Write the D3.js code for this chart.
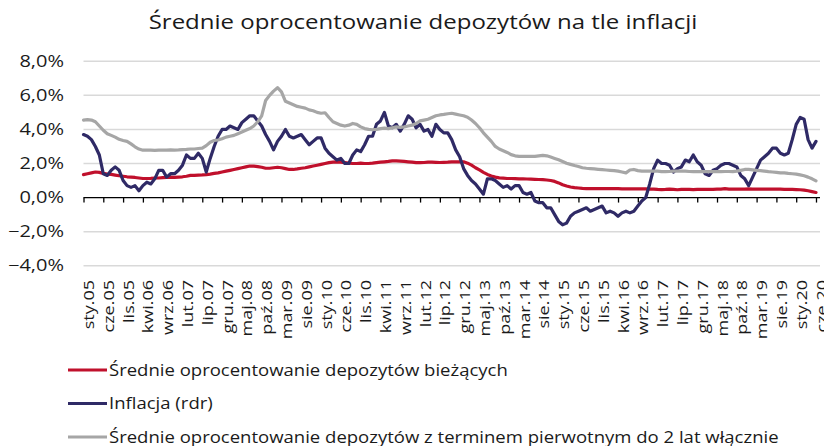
<!DOCTYPE html>
<html>
<head>
<meta charset="utf-8">
<script src="https://cdn.jsdelivr.net/npm/d3@7"></script>
<style>
  body { margin: 0; background: #fff; }
  text { font-family: "Open Sans", sans-serif; fill: #1a1a1a; }
</style>
</head>
<body>
<script>
// monthly data sty.05 - cze.20
var tickLabels = ["sty.05","cze.05","lis.05","kwi.06","wrz.06","lut.07","lip.07","gru.07","maj.08","paź.08",
  "mar.09","sie.09","sty.10","cze.10","lis.10","kwi.11","wrz.11","lut.12","lip.12","gru.12",
  "maj.13","paź.13","mar.14","sie.14","sty.15","cze.15","lis.15","kwi.16","wrz.16","lut.17",
  "lip.17","gru.17","maj.18","paź.18","mar.19","sie.19","sty.20","cze.20"];

var yTicks = [-4, -2, 0, 2, 4, 6, 8];

var biezace = [
  1.35,1.40,1.45,1.50,1.48,1.42,1.38,1.36,1.32,1.28,1.25,1.22,
  1.20,1.18,1.15,1.12,1.12,1.13,1.15,1.15,1.17,1.18,1.20,1.18,
  1.20,1.22,1.25,1.30,1.30,1.32,1.33,1.35,1.38,1.42,1.45,1.50,
  1.55,1.60,1.65,1.70,1.75,1.80,1.85,1.85,1.82,1.78,1.72,1.72,
  1.75,1.78,1.75,1.70,1.65,1.65,1.68,1.72,1.75,1.80,1.85,1.90,
  1.95,2.00,2.05,2.08,2.10,2.08,2.05,2.02,2.00,2.00,2.02,2.00,
  2.00,2.02,2.05,2.08,2.10,2.12,2.15,2.15,2.14,2.12,2.10,2.08,
  2.05,2.05,2.06,2.08,2.08,2.07,2.06,2.07,2.08,2.10,2.10,2.10,
  2.10,2.02,1.90,1.75,1.62,1.48,1.36,1.27,1.20,1.16,1.14,1.12,
  1.12,1.11,1.10,1.10,1.09,1.08,1.07,1.06,1.05,1.03,1.00,0.95,
  0.86,0.75,0.68,0.62,0.58,0.56,0.54,0.53,0.52,0.52,0.52,0.52,
  0.52,0.52,0.52,0.52,0.51,0.51,0.51,0.51,0.51,0.51,0.51,0.50,
  0.50,0.48,0.47,0.48,0.50,0.48,0.46,0.48,0.48,0.48,0.47,0.48,
  0.48,0.48,0.48,0.48,0.49,0.50,0.52,0.50,0.49,0.49,0.50,0.50,
  0.51,0.50,0.50,0.49,0.49,0.49,0.49,0.49,0.49,0.48,0.48,0.48,
  0.47,0.46,0.44,0.40,0.35,0.30
];

var inflacja = [
  3.7,3.6,3.4,3.0,2.5,1.4,1.3,1.6,1.8,1.6,1.0,0.7,
  0.6,0.7,0.4,0.7,0.9,0.8,1.1,1.6,1.6,1.2,1.4,1.4,
  1.6,1.9,2.5,2.3,2.3,2.6,2.3,1.5,2.3,3.0,3.6,4.0,
  4.0,4.2,4.1,4.0,4.4,4.6,4.8,4.8,4.5,4.2,3.7,3.3,
  2.8,3.3,3.6,4.0,3.6,3.5,3.6,3.7,3.4,3.1,3.3,3.5,
  3.5,2.9,2.6,2.4,2.2,2.3,2.0,2.0,2.5,2.8,2.7,3.1,
  3.6,3.6,4.3,4.5,5.0,4.2,4.1,4.3,3.9,4.3,4.8,4.6,
  4.1,4.3,3.9,4.0,3.6,4.3,4.0,3.8,3.8,3.4,2.8,2.4,
  1.7,1.3,1.0,0.8,0.5,0.2,1.1,1.1,1.0,0.8,0.6,0.7,
  0.5,0.7,0.7,0.3,0.2,0.3,-0.2,-0.3,-0.3,-0.6,-0.6,-1.0,
  -1.4,-1.6,-1.5,-1.1,-0.9,-0.8,-0.7,-0.6,-0.8,-0.7,-0.6,-0.5,
  -0.9,-0.8,-0.9,-1.1,-0.9,-0.8,-0.9,-0.8,-0.5,-0.2,0.0,0.8,
  1.7,2.2,2.0,2.0,1.9,1.5,1.7,1.8,2.2,2.1,2.5,2.1,
  1.9,1.4,1.3,1.6,1.7,1.9,2.0,2.0,1.9,1.8,1.3,1.1,
  0.7,1.2,1.7,2.2,2.4,2.6,2.9,2.9,2.6,2.5,2.6,3.4,
  4.3,4.7,4.6,3.4,2.9,3.3
];

var terminowe = [
  4.55,4.58,4.55,4.45,4.20,3.95,3.75,3.65,3.55,3.42,3.35,3.30,
  3.15,2.98,2.85,2.78,2.78,2.78,2.77,2.78,2.78,2.78,2.80,2.79,
  2.80,2.82,2.83,2.85,2.85,2.88,2.90,3.05,3.25,3.35,3.38,3.45,
  3.55,3.60,3.65,3.75,3.85,3.95,4.05,4.20,4.45,4.80,5.70,6.00,
  6.25,6.45,6.20,5.65,5.55,5.45,5.35,5.30,5.25,5.15,5.10,5.00,
  4.95,4.98,4.70,4.45,4.35,4.25,4.20,4.25,4.35,4.30,4.15,4.05,
  4.00,3.98,4.00,4.05,4.08,4.05,4.10,4.15,4.12,4.15,4.20,4.25,
  4.35,4.50,4.55,4.60,4.70,4.80,4.85,4.88,4.92,4.95,4.90,4.85,
  4.80,4.72,4.55,4.35,4.10,3.80,3.55,3.30,3.00,2.85,2.75,2.65,
  2.52,2.45,2.42,2.42,2.42,2.42,2.42,2.45,2.48,2.45,2.38,2.30,
  2.22,2.12,2.02,1.95,1.88,1.82,1.75,1.72,1.70,1.68,1.66,1.64,
  1.62,1.60,1.58,1.55,1.50,1.45,1.62,1.65,1.58,1.55,1.55,1.55,
  1.55,1.55,1.52,1.52,1.53,1.55,1.55,1.55,1.55,1.53,1.52,1.52,
  1.52,1.52,1.52,1.52,1.52,1.52,1.53,1.53,1.52,1.55,1.60,1.65,
  1.65,1.63,1.60,1.58,1.55,1.52,1.50,1.48,1.45,1.45,1.42,1.40,
  1.38,1.33,1.28,1.20,1.10,0.98
];

var seriesNames = [
  "Średnie oprocentowanie depozytów bieżących",
  "Inflacja (rdr)",
  "Średnie oprocentowanie depozytów z terminem pierwotnym do 2 lat włącznie"
];
var seriesColors = ["#c0102c", "#2f2a66", "#a6a6a6"];

var width = 824, height = 446;

var svg = d3.select("body").append("svg")
    .attr("width", width)
    .attr("height", height);

var x = d3.scaleLinear().domain([0, biezace.length - 1]).range([83.5, 816]);
var y = d3.scaleLinear().domain([-4, 8]).range([265.7, 61.3]);

// source picture is stretched horizontally, so the text is too
function place(px, py, sx) {
    return "translate(" + px + "," + py + ") scale(" + sx + ",1)";
}

// title
svg.append("text")
    .attr("transform", place(423, 29, 1.2))
    .attr("text-anchor", "middle")
    .attr("font-size", "20px")
    .text("Średnie oprocentowanie depozytów na tle inflacji");

// gridlines
svg.append("g")
    .selectAll("line")
    .data(yTicks.filter(function(d) { return d !== 0; }))
    .enter().append("line")
    .attr("x1", 83.5)
    .attr("x2", 820)
    .attr("y1", function(d) { return y(d); })
    .attr("y2", function(d) { return y(d); })
    .attr("stroke", "#d9d9d9")
    .attr("stroke-width", 1.5);

// y labels
svg.append("g")
    .selectAll("text")
    .data(yTicks)
    .enter().append("text")
    .attr("transform", function(d) { return place(64, y(d), 1.25); })
    .attr("dy", "0.35em")
    .attr("text-anchor", "end")
    .attr("font-size", "16px")
    .text(function(d) { return d3.format(".1f")(d).replace(".", ",") + "%"; });

// x axis on zero
var tickIdx = tickLabels.map(function(d, i) { return i * 5; });
var xAxis = d3.axisBottom(x)
    .tickValues(tickIdx)
    .tickSize(5)
    .tickFormat("");

var gx = svg.append("g")
    .attr("transform", "translate(0," + y(0) + ")")
    .call(xAxis);
gx.select(".domain").attr("stroke", "#000").attr("stroke-width", 1.3)
    .attr("d", "M" + x(0) + ",0H820");
gx.selectAll(".tick line").attr("stroke", "#000").attr("stroke-width", 1.3);

svg.append("g")
    .selectAll("text")
    .data(tickLabels)
    .enter().append("text")
    .attr("transform", function(d, i) {
        return "translate(" + (x(i * 5) + 10.5) + ",280) rotate(-90) scale(1.2,1)";
    })
    .attr("text-anchor", "end")
    .attr("font-size", "15px")
    .text(function(d) { return d; });

// lines
var line = d3.line()
    .x(function(d, i) { return x(i); })
    .y(function(d) { return y(d); });

var allSeries = [biezace, inflacja, terminowe];
var drawOrder = [0, 1, 2];

svg.append("g")
    .selectAll("path")
    .data(drawOrder)
    .enter().append("path")
    .attr("d", function(k) { return line(allSeries[k]); })
    .attr("fill", "none")
    .attr("stroke", function(k) { return seriesColors[k]; })
    .attr("stroke-width", 3.2)
    .attr("stroke-linejoin", "round")
    .attr("stroke-linecap", "round");

// legend
var legend = svg.append("g")
    .selectAll("g")
    .data(seriesNames)
    .enter().append("g")
    .attr("transform", function(d, i) { return "translate(0," + (370 + i * 33.5) + ")"; });

legend.append("line")
    .attr("x1", 68)
    .attr("x2", 107)
    .attr("stroke", function(d, i) { return seriesColors[i]; })
    .attr("stroke-width", 3.2);

legend.append("text")
    .attr("transform", place(109, 0, 1.09))
    .attr("dy", "0.35em")
    .attr("font-size", "17px")
    .text(function(d) { return d; });
</script>
</body>
</html>
